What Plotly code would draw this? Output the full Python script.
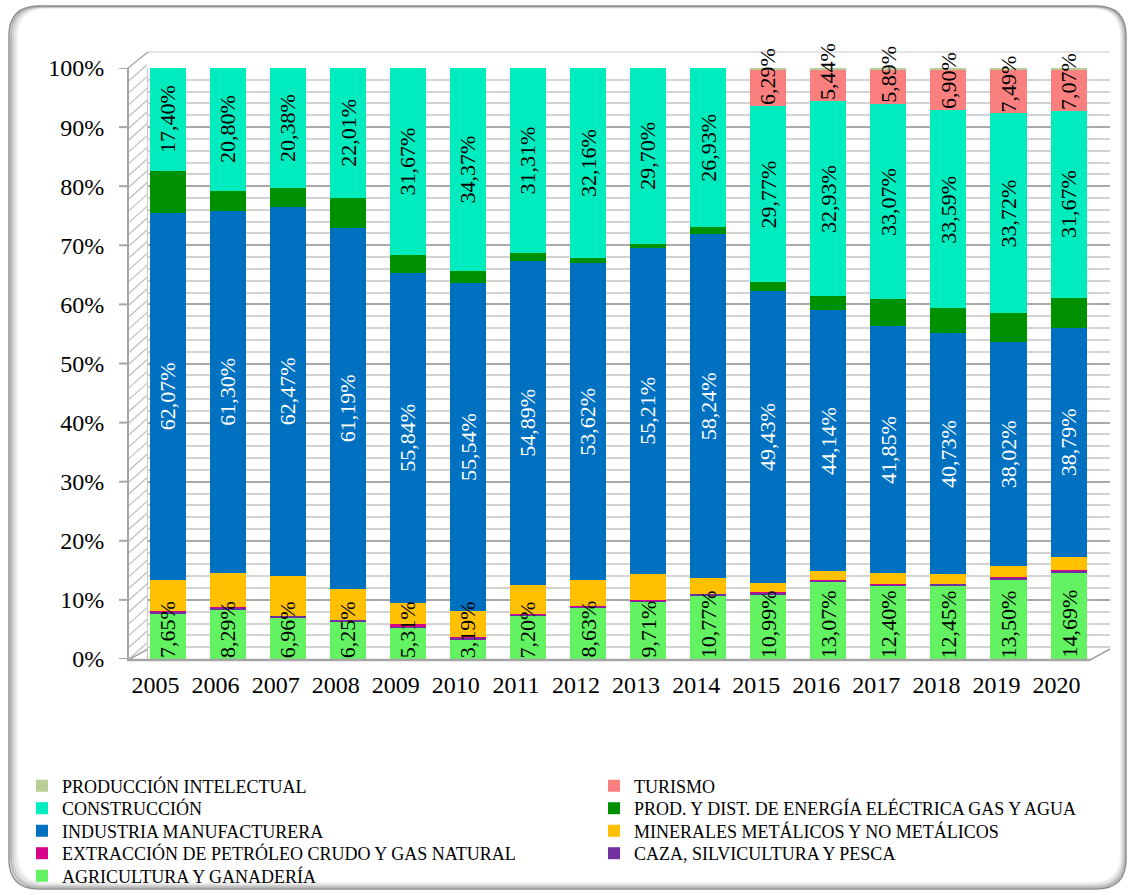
import plotly.graph_objects as go

years = ["2005", "2006", "2007", "2008", "2009", "2010", "2011", "2012",
         "2013", "2014", "2015", "2016", "2017", "2018", "2019", "2020"]

agricultura = [7.65, 8.29, 6.96, 6.25, 5.31, 3.19, 7.20, 8.63, 9.71, 10.77, 10.99, 13.07, 12.40, 12.45, 13.50, 14.69]
caza = [0.45, 0.45, 0.35, 0.35, 0.25, 0.45, 0.35, 0.25, 0.25, 0.25, 0.25, 0.25, 0.25, 0.25, 0.25, 0.25]
extraccion = [0.05, 0.05, 0.05, 0.05, 0.30, 0.05, 0.05, 0.05, 0.05, 0.05, 0.05, 0.05, 0.05, 0.05, 0.05, 0.05]
minerales = [5.20, 5.71, 6.64, 5.15, 3.64, 4.40, 4.90, 4.40, 4.40, 2.60, 1.60, 1.50, 1.80, 1.65, 1.90, 2.20]
manufactura = [62.07, 61.30, 62.47, 61.19, 55.84, 55.54, 54.89, 53.62, 55.21, 58.24, 49.43, 44.14, 41.85, 40.73, 38.02, 38.79]
energia = [7.18, 3.40, 3.15, 4.99, 2.99, 2.00, 1.30, 0.89, 0.68, 1.16, 1.42, 2.42, 4.49, 4.18, 4.87, 5.08]
construccion = [17.40, 20.80, 20.38, 22.01, 31.67, 34.37, 31.31, 32.16, 29.70, 26.93, 29.77, 32.93, 33.07, 33.59, 33.72, 31.67]
turismo = [0, 0, 0, 0, 0, 0, 0, 0, 0, 0, 6.29, 5.44, 5.89, 6.90, 7.49, 7.07]
prod_intelectual = [0, 0, 0, 0, 0, 0, 0, 0, 0, 0, 0.20, 0.20, 0.20, 0.20, 0.20, 0.20]

y_ticks = [0, 10, 20, 30, 40, 50, 60, 70, 80, 90, 100]
y_tick_labels = ["0%", "10%", "20%", "30%", "40%", "50%", "60%", "70%", "80%", "90%", "100%"]

FONT = "Liberation Serif"

# (name, values, colour, legend column, legend row, label mode, label colour)
series = [
    ("AGRICULTURA Y GANADERÍA", agricultura, "#62F262", 0, 4, "start", "black"),
    ("CAZA, SILVICULTURA Y PESCA", caza, "#7030A0", 1, 3, None, None),
    ("EXTRACCIÓN DE PETRÓLEO CRUDO Y GAS NATURAL", extraccion, "#D6008A", 0, 3, None, None),
    ("MINERALES METÁLICOS Y NO METÁLICOS", minerales, "#FFC000", 1, 2, None, None),
    ("INDUSTRIA MANUFACTURERA", manufactura, "#0070C0", 0, 2, "middle", "white"),
    ("PROD. Y DIST. DE ENERGÍA ELÉCTRICA GAS Y AGUA", energia, "#009100", 1, 1, None, None),
    ("CONSTRUCCIÓN", construccion, "#00EBBE", 0, 1, "middle", "black"),
    ("TURISMO", turismo, "#FA8080", 1, 0, "start", "black"),
    ("PRODUCCIÓN INTELECTUAL", prod_intelectual, "#B9CD96", 0, 0, None, None),
]

W, H = 1134, 895
L, R, T, B = 148, 24, 68, 236
PW, PH = W - L - R, H - T - B


def px(x):
    return (x - L) / PW


def py(y):
    return (H - B - y) / PH


fig = go.Figure()
annotations = []
legends = {}
legfont = dict(family=FONT, size=18, color="black")
base = [0.0] * len(years)
for k, (name, vals, col, lcol, lrow, mode, tcol) in enumerate(series):
    lname = "legend" if k == 0 else "legend%d" % (k + 1)
    legends[lname] = dict(orientation="v", x=px(22 if lcol == 0 else 594),
                          y=py(786 + 22.5 * lrow), xanchor="left", yanchor="middle",
                          font=legfont, bgcolor="rgba(0,0,0,0)", borderwidth=0)
    fig.add_trace(go.Bar(x=years, y=vals, name=name, legend=lname,
                         marker=dict(color=col, line=dict(width=0)),
                         textposition="none", hoverinfo="skip"))
    if mode:
        for i, v in enumerate(vals):
            if v <= 0:
                continue
            txt = ("%.2f%%" % v).replace(".", ",")
            if mode == "start":
                yy, ya = base[i], "bottom"
            else:
                yy, ya = base[i] + v / 2.0, "middle"
            annotations.append(dict(x=i, y=yy, xref="x", yref="y", text=txt,
                                    showarrow=False, textangle=-90, yanchor=ya,
                                    xanchor="center", borderpad=0,
                                    font=dict(family=FONT, size=22, color=tcol)))
    base = [b + v for b, v in zip(base, vals)]


def rrect(x0, y0, x1, y1, r):
    a, b, c, d = px(x0), py(y0), px(x1), py(y1)
    rx, ry = r / PW, r / PH
    return (f"M{a+rx},{b} L{c-rx},{b} Q{c},{b} {c},{b-ry} L{c},{d+ry} Q{c},{d} {c-rx},{d} "
            f"L{a+rx},{d} Q{a},{d} {a},{d+ry} L{a},{b-ry} Q{a},{b} {a+rx},{b} Z")


def seg(x0, y0, x1, y1, col, wd, layer="below"):
    return dict(type="line", xref="paper", yref="paper", x0=px(x0), y0=py(y0),
                x1=px(x1), y1=py(y1), line=dict(color=col, width=wd), layer=layer)


shapes = []
# outer rounded frame with soft shadow
for inset, col, wd in [(8, "#f0f0f0", 2), (6, "#e2e2e2", 2), (4, "#cfcfcf", 2), (2, "#b8b8b8", 2), (0, "#8f8f8f", 1.5)]:
    shapes.append(dict(type="path", xref="paper", yref="paper",
                       path=rrect(9 + inset, 6 + inset * 0.2, 1126 - inset * 0.6, 889 - inset * 0.7, 30),
                       line=dict(color=col, width=wd), layer="below"))
# left 3D wall with hatching
yy = 659.0
while yy > 80:
    shapes.append(seg(129, yy, 147, yy - 16, "#bdbdbd", 1.2))
    yy -= 11.8
shapes.append(seg(128, 68, 148, 52, "#a6a6a6", 1.5))
shapes.append(seg(148, 52, 1110, 52, "#c8c8c8", 1))
shapes.append(seg(128, 68, 128, 660, "#a6a6a6", 2))
# tick marks on the front edge of the wall
for v in y_ticks:
    shapes.append(dict(type="line", xref="paper", yref="y", x0=px(119), x1=px(128),
                       y0=v, y1=v, line=dict(color="#a6a6a6", width=2), layer="below"))
# floor
shapes.append(seg(128, 660, 148, 649, "#a6a6a6", 1.5, "above"))
shapes.append(seg(127, 660, 1090, 660, "#a6a6a6", 2.5, "above"))
shapes.append(seg(1090, 660, 1110, 649, "#a6a6a6", 1.5, "above"))

fig.update_layout(
    width=W, height=H,
    margin=dict(l=L, r=R, t=T, b=B, autoexpand=False),
    paper_bgcolor="white", plot_bgcolor="white",
    barmode="stack", barnorm="percent", bargap=0.4,
    separators=",.",
    font=dict(family=FONT, color="black"),
    showlegend=True,
    shapes=shapes,
    annotations=annotations,
    xaxis=dict(type="category", range=[-0.325, 15.69], showgrid=False,
               showline=False, ticks="",
               tickfont=dict(family=FONT, size=24, color="black"),
               ticklabelstandoff=9, ticklabelshift=-12),
    yaxis=dict(range=[0, 100], tickmode="array", tickvals=y_ticks, ticktext=y_tick_labels,
               showgrid=True, gridcolor="#a9a9a9", gridwidth=2, zeroline=False,
               showline=True, linecolor="#c8c8c8", linewidth=1,
               ticks="", ticklabelstandoff=38,
               tickfont=dict(family=FONT, size=24, color="black"),
               minor=dict(dtick=2, showgrid=True, gridcolor="#d2d2d2", gridwidth=1.5, ticks="")),
    **legends,
)

fig.write_html("out.html", config={"displayModeBar": False},
               post_script="document.body.style.margin='0';document.body.style.padding='0';")
